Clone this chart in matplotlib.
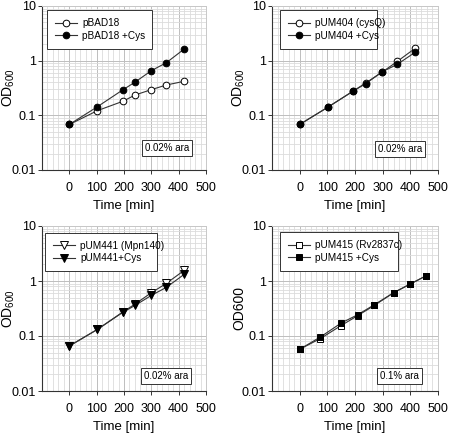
import matplotlib
matplotlib.use("Agg")
import matplotlib.pyplot as plt
from matplotlib.patches import Rectangle
from matplotlib.ticker import MultipleLocator, LogLocator, FixedLocator, NullFormatter
import numpy as np

plt.rcParams['font.family'] = ['Liberation Sans', 'DejaVu Sans']
plt.rcParams['mathtext.fontset'] = 'custom'
plt.rcParams['mathtext.rm'] = 'Liberation Sans'
plt.rcParams['mathtext.it'] = 'Liberation Sans:italic'
plt.rcParams['mathtext.bf'] = 'Liberation Sans:bold'
plt.rcParams['mathtext.default'] = 'rm'

# Panel 1
t1 = [0, 103, 195, 241, 300, 355, 420]
pbad18 = [0.068, 0.122, 0.180, 0.236, 0.295, 0.359, 0.419]
pbad18_cys = [0.068, 0.144, 0.291, 0.407, 0.656, 0.918, 1.63]
# Panel 2
t2 = [0, 101, 194, 239, 297, 353, 417]
pum404 = [0.068, 0.140, 0.279, 0.392, 0.612, 0.97, 1.68]
pum404_cys = [0.068, 0.140, 0.279, 0.379, 0.621, 0.857, 1.42]
# Panel 3
t3 = [0, 103, 195, 241, 300, 355, 420]
pum441 = [0.0658, 0.132, 0.272, 0.382, 0.612, 0.905, 1.56]
pum441_cys = [0.0658, 0.132, 0.268, 0.361, 0.547, 0.766, 1.32]
# Panel 4
t4 = [0, 75, 150, 210, 270, 340, 400, 455]
pum415 = [0.0573, 0.090, 0.155, 0.235, 0.360, 0.614, 0.882, 1.23]
pum415_cys = [0.0573, 0.096, 0.172, 0.244, 0.371, 0.614, 0.882, 1.23]

W, H = 450, 438
panels = [
    dict(t=t1, a=pbad18, b=pbad18_cys, la='pBAD18', lb='pBAD18 +Cys', m='o', ara='0.02% ara', ylab='OD$_{600}$',
         px=(42, 206, 6, 170), leg=(47, 10, 152, 49), ann=(0.76, 0.135)),
    dict(t=t2, a=pum404, b=pum404_cys, la='pUM404 (cysQ)', lb='pUM404 +Cys', m='o', ara='0.02% ara', ylab='OD$_{600}$',
         px=(272, 438, 6, 170), leg=(280, 10, 377, 49), ann=(0.77, 0.13)),
    dict(t=t3, a=pum441, b=pum441_cys, la='pUM441 (Mpn140)', lb='pUM441+Cys', m='v', ara='0.02% ara', ylab='OD$_{600}$',
         px=(42, 206, 226, 391), leg=(45, 233, 157, 271), ann=(0.755, 0.09)),
    dict(t=t4, a=pum415, b=pum415_cys, la='pUM415 (Rv2837c)', lb='pUM415 +Cys', m='s', ara='0.1% ara', ylab='OD600',
         px=(272, 438, 226, 391), leg=(280, 232, 398, 271), ann=(0.77, 0.09)),
]

fig = plt.figure(figsize=(4.5, 4.38), dpi=100)
for p in panels:
    x0, x1, y0, y1 = p['px']
    aw, ah = x1 - x0, y1 - y0
    ax = fig.add_axes([x0 / W, 1 - y1 / H, aw / W, ah / H])
    ax.set_yscale('log')
    ax.set_xlim(-100, 500)
    ax.set_ylim(0.01, 10)
    ax.xaxis.set_major_locator(FixedLocator([0, 100, 200, 300, 400, 500]))
    ax.xaxis.set_minor_locator(MultipleLocator(20))
    ax.yaxis.set_major_locator(FixedLocator([0.01, 0.1, 1, 10]))
    ax.yaxis.set_minor_locator(LogLocator(base=10, subs=np.arange(2, 10)))
    ax.yaxis.set_minor_formatter(NullFormatter())
    ax.set_yticklabels(['0.01', '0.1', '1', '10'])
    ax.grid(True, which='minor', color='#dcdcdc', lw=0.6)
    ax.grid(True, which='major', color='#bdbdbd', lw=0.7)
    ax.set_axisbelow(True)
    ax.tick_params(which='minor', length=0)
    ax.tick_params(which='major', direction='out', length=3, width=0.7, labelsize=9, color='#333333')
    ax.tick_params(axis='x', pad=6)
    ax.tick_params(axis='y', pad=1.5)
    for s in ['top', 'right']:
        ax.spines[s].set_color('#c8c8c8')
        ax.spines[s].set_linewidth(0.7)
    for s in ['left', 'bottom']:
        ax.spines[s].set_color('#333333')
        ax.spines[s].set_linewidth(0.8)
    ms = 4.8 if p['m'] != 'v' else 5.3
    ax.plot(p['t'], p['a'], marker=p['m'], color='#333333', lw=0.8, ms=ms, mfc='white', mec='black', mew=0.7,
            label=p['la'], zorder=3)
    ax.plot(p['t'], p['b'], marker=p['m'], color='#333333', lw=0.8, ms=ms, mfc='black', mec='black', mew=0.7,
            label=p['lb'], zorder=4)
    # legend box drawn at the reference's box position, legend entries inside
    lx0, ly0, lx1, ly1 = p['leg']
    ax.add_patch(Rectangle(((lx0 - x0) / aw, 1 - (ly1 - y0) / ah), (lx1 - lx0) / aw, (ly1 - ly0) / ah,
                           transform=ax.transAxes, fc='white', ec='#333333', lw=0.7, zorder=6))
    leg = ax.legend(loc='center left', bbox_to_anchor=((lx0 + 8 - x0) / aw, 1 - ((ly0 + ly1) / 2 - y0) / ah),
                    fontsize=7.2, frameon=False, borderpad=0, handlelength=2.2, handletextpad=0.5,
                    labelspacing=0.25, borderaxespad=0)
    leg.set_zorder(7)
    ax.text(p['ann'][0], p['ann'][1], p['ara'], transform=ax.transAxes, fontsize=7, ha='center', va='center',
            bbox=dict(boxstyle='square,pad=0.3', fc='white', ec='#333333', lw=0.7), zorder=5)
    ax.set_xlabel('Time [min]', fontsize=9.5)
    ax.xaxis.set_label_coords(0.5, -36 / ah)
    ax.xaxis.label.set_va('center')
    ax.set_ylabel(p['ylab'], fontsize=10)
    ax.yaxis.set_label_coords(-33 / aw, 0.5)
    ax.yaxis.label.set_va('center')

fig.savefig('out.png', dpi=100)
